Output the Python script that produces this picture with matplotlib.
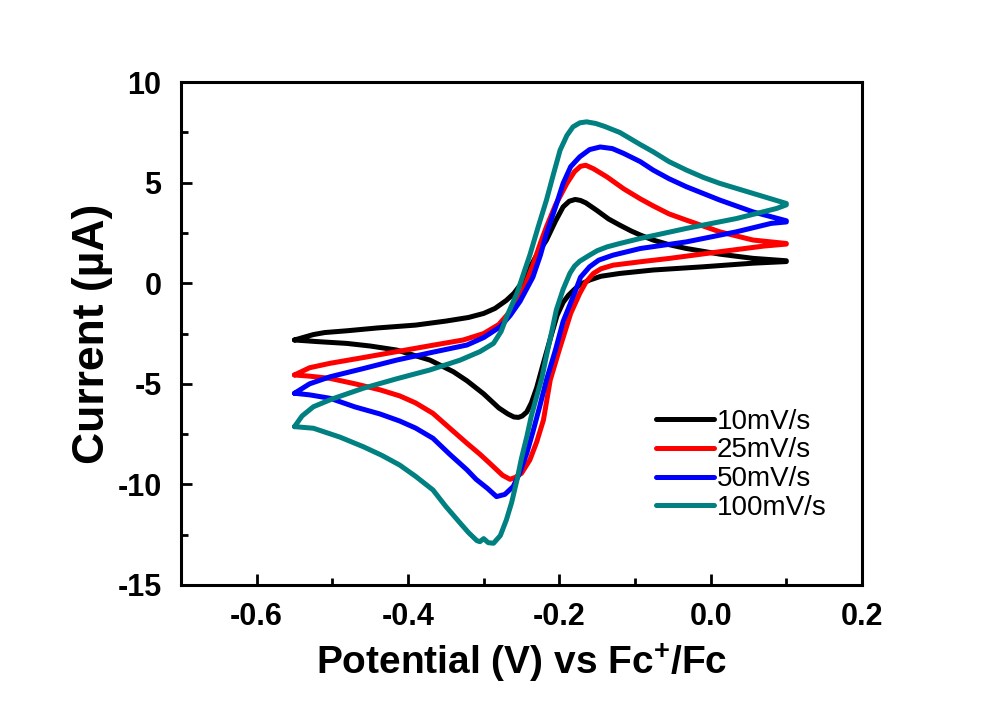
import numpy as np
import matplotlib
matplotlib.use("Agg")
import matplotlib.pyplot as plt
from matplotlib.ticker import MultipleLocator

plt.rcParams['font.family'] = ['Liberation Sans', 'DejaVu Sans']
plt.rcParams['mathtext.fontset'] = 'custom'
plt.rcParams['mathtext.bf'] = 'Liberation Sans:bold'
plt.rcParams['mathtext.rm'] = 'Liberation Sans:bold'

# cyclic voltammograms: forward scan then reverse scan
E_10 = [-0.55, -0.525, -0.51, -0.48, -0.44, -0.39, -0.35, -0.32, -0.30, -0.285, -0.27, -0.26, -0.25,
        -0.24, -0.23, -0.217, -0.205, -0.195, -0.187, -0.179, -0.172, -0.165, -0.151, -0.135, -0.12,
        -0.105, -0.093, -0.076, -0.055, -0.032, 0.012, 0.056, 0.1,
        0.1, 0.056, -0.01, -0.076, -0.12, -0.145, -0.16, -0.172, -0.18, -0.188, -0.195, -0.203,
        -0.21, -0.216, -0.222, -0.23, -0.237, -0.243, -0.249, -0.254, -0.26, -0.268, -0.28, -0.29,
        -0.30, -0.322, -0.34, -0.371, -0.415, -0.45, -0.481, -0.52, -0.55]
I_10 = [-2.82, -2.55, -2.45, -2.36, -2.22, -2.08, -1.88, -1.70, -1.50, -1.25, -0.85, -0.5, 0.0,
        0.7, 1.4, 2.15, 3.1, 3.80, 4.08, 4.17, 4.12, 4.0, 3.64, 3.2, 2.89,
        2.6, 2.40, 2.15, 1.92, 1.73, 1.45, 1.24, 1.12,
        1.08, 1.0, 0.82, 0.66, 0.49, 0.35, 0.16, -0.05, -0.3, -0.6, -0.95, -1.6,
        -2.5, -3.3, -4.1, -5.2, -5.95, -6.4, -6.6, -6.67, -6.65, -6.5, -6.2, -5.85,
        -5.5, -4.85, -4.4, -3.82, -3.32, -3.12, -2.99, -2.9, -2.82]

E_25 = [-0.55, -0.53, -0.503, -0.46, -0.415, -0.37, -0.327, -0.30, -0.28, -0.265, -0.255, -0.248,
        -0.235, -0.225, -0.217, -0.205, -0.19, -0.18, -0.172, -0.165, -0.155, -0.137, -0.115, -0.093,
        -0.076, -0.055, -0.032, 0.012, 0.056, 0.1,
        0.1, 0.07, 0.012, -0.054, -0.093, -0.129, -0.145, -0.155, -0.165, -0.173, -0.185, -0.2,
        -0.212, -0.221, -0.23, -0.239, -0.25, -0.258, -0.265, -0.275, -0.292, -0.305, -0.322, -0.345,
        -0.367, -0.39, -0.411, -0.437, -0.47, -0.503, -0.53, -0.55]
I_25 = [-4.56, -4.2, -3.98, -3.7, -3.40, -3.1, -2.82, -2.5, -2.05, -1.4, -0.8, -0.34,
        0.9, 2.0, 2.81, 3.9, 4.97, 5.55, 5.82, 5.87, 5.7, 5.29, 4.7, 4.2,
        3.85, 3.45, 3.14, 2.56, 2.15, 1.98,
        1.95, 1.85, 1.57, 1.24, 1.07, 0.90, 0.72, 0.49, 0.05, -0.5, -1.5, -3.3,
        -4.81, -6.8, -7.9, -8.79, -9.45, -9.65, -9.75, -9.55, -8.95, -8.5, -7.96, -7.2,
        -6.47, -5.95, -5.6, -5.3, -5.0, -4.73, -4.62, -4.56]

E_50 = [-0.55, -0.53, -0.503, -0.46, -0.415, -0.37, -0.322, -0.30, -0.278, -0.265, -0.252, -0.235,
        -0.225, -0.217, -0.205, -0.195, -0.185, -0.173, -0.16, -0.146, -0.13, -0.115, -0.093, -0.076,
        -0.055, -0.032, 0.012, 0.056, 0.1,
        0.1, 0.08, 0.034, -0.032, -0.093, -0.129, -0.148, -0.16, -0.172, -0.18, -0.195, -0.205,
        -0.217, -0.226, -0.235, -0.243, -0.252, -0.261, -0.272, -0.283, -0.295, -0.31, -0.322, -0.345,
        -0.367, -0.39, -0.411, -0.437, -0.47, -0.503, -0.53, -0.55]
I_50 = [-5.47, -5.0, -4.65, -4.25, -3.82, -3.45, -3.07, -2.7, -2.16, -1.6, -0.9, 0.3,
        1.4, 2.48, 3.8, 4.97, 5.8, 6.29, 6.65, 6.78, 6.7, 6.46, 6.05, 5.63,
        5.2, 4.80, 4.14, 3.55, 3.11,
        3.05, 2.98, 2.56, 2.06, 1.73, 1.40, 1.15, 0.82, 0.3, -0.5, -1.9, -3.3,
        -4.81, -6.14, -7.4, -8.45, -9.4, -10.11, -10.5, -10.61, -10.2, -9.75, -9.28, -8.5,
        -7.71, -7.2, -6.85, -6.5, -6.15, -5.72, -5.55, -5.47]

E_100 = [-0.55, -0.54, -0.525, -0.5, -0.459, -0.415, -0.371, -0.331, -0.305, -0.287, -0.277, -0.27,
         -0.256, -0.248, -0.239, -0.228, -0.217, -0.208, -0.199, -0.19, -0.182, -0.173, -0.164, -0.152,
         -0.14, -0.12, -0.093, -0.076, -0.055, -0.032, -0.01, 0.012, 0.056, 0.1,
         0.1, 0.087, 0.034, -0.032, -0.093, -0.12, -0.137, -0.15, -0.16, -0.173, -0.18, -0.186,
         -0.195, -0.204, -0.21, -0.217, -0.223, -0.23, -0.237, -0.243, -0.25, -0.256, -0.263, -0.27,
         -0.278, -0.287, -0.294, -0.30, -0.305, -0.309, -0.32, -0.331, -0.35, -0.367, -0.39, -0.411,
         -0.435, -0.459, -0.49, -0.525, -0.55]
I_100 = [-7.13, -6.6, -6.14, -5.75, -5.22, -4.75, -4.31, -3.82, -3.4, -2.99, -2.4, -1.7,
         -0.5, 0.4, 1.4, 2.8, 4.14, 5.4, 6.62, 7.35, 7.78, 7.98, 8.03, 7.95,
         7.8, 7.5, 6.9, 6.54, 6.05, 5.63, 5.27, 4.97, 4.47, 3.97,
         3.9, 3.72, 3.22, 2.73, 2.23, 1.98, 1.81, 1.62, 1.4, 1.1, 0.85, 0.5,
         -0.3, -1.33, -2.4, -3.6, -4.7, -5.64, -6.6, -7.63, -8.7, -9.78, -10.9, -11.77,
         -12.55, -12.93, -12.9, -12.7, -12.85, -12.8, -12.4, -11.93, -11.1, -10.28, -9.6, -9.04,
         -8.55, -8.13, -7.65, -7.21, -7.13]

labels = ['10mV/s', '25mV/s', '50mV/s', '100mV/s']
colors = ['#000000', '#ff0000', '#0000ff', '#008080']
curves = [(E_10, I_10), (E_25, I_25), (E_50, I_50), (E_100, I_100)]

fig = plt.figure(figsize=(10, 7.15), dpi=100)
ax = fig.add_axes([0.181, 0.182, 0.681, 0.703])

for (E, I), c, lab in zip(curves, colors, labels):
    ax.plot(E, I, color=c, lw=3.6, label=lab, solid_joinstyle='round', solid_capstyle='round')

ax.set_xlim(-0.7, 0.2)
ax.set_ylim(-15, 10)
ax.xaxis.set_minor_locator(MultipleLocator(0.1))
ax.yaxis.set_minor_locator(MultipleLocator(2.5))
ax.set_xticks([-0.6, -0.4, -0.2, 0.0, 0.2])
ax.set_xticklabels(['-0.6', '-0.4', '-0.2', '0.0', '0.2'])
ax.set_yticks([-15, -10, -5, 0, 5, 10])
ax.set_yticklabels(['-15', '-10', '-5', '0', '5', '10'])

for s in ax.spines.values():
    s.set_linewidth(2.2)
ax.tick_params(which='both', direction='in', width=2, top=False, right=False)
ax.tick_params(which='major', length=8, labelsize=22)
ax.tick_params(axis='x', which='major', pad=12)
ax.tick_params(axis='y', which='major', pad=14)
ax.tick_params(which='minor', length=5)
for t in ax.get_xticklabels() + ax.get_yticklabels():
    t.set_fontweight('bold')

ax.set_xlabel(r'Potential (V) vs Fc$^{+}$/Fc', fontsize=28, fontweight='bold', labelpad=7)
ax.set_ylabel('Current (µA)', fontsize=32, fontweight='bold', labelpad=3)

leg = ax.legend(loc='lower left', bbox_to_anchor=(0.6975, 0.127), frameon=False, fontsize=20,
                handlelength=2.1, handletextpad=0.1, labelspacing=0.1, borderaxespad=0,
                borderpad=0)

fig.savefig('out.png', dpi=100)
